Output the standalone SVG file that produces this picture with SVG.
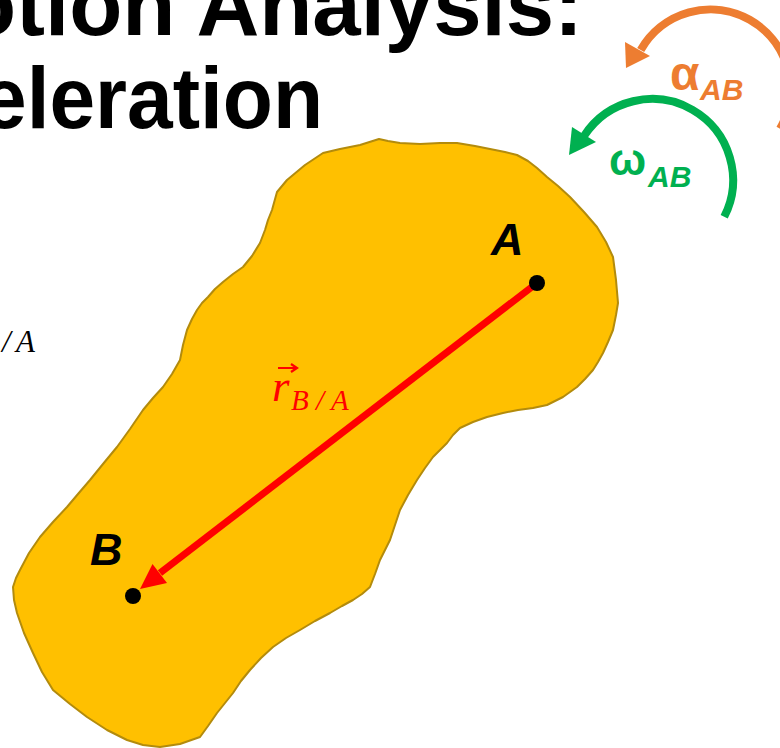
<svg xmlns="http://www.w3.org/2000/svg" width="780" height="748" viewBox="0 0 780 748">
<style>
.title{font-family:"Liberation Sans",Arial,sans-serif;font-weight:bold;font-size:88px;fill:#000}
.pt{font-family:"Liberation Sans",Arial,sans-serif;font-weight:bold;font-style:italic;font-size:45px;fill:#000}
.math{font-family:"Liberation Serif","Times New Roman",serif;font-style:italic}
.greek{font-family:"Liberation Sans",Arial,sans-serif;font-weight:bold}
.sub{font-family:"Liberation Sans",Arial,sans-serif;font-weight:bold;font-style:italic;font-size:30px}
</style>
<g id="title">
<text class="title" x="-37" y="35" textLength="620" lengthAdjust="spacingAndGlyphs">otion Analysis:</text>
<text class="title" x="-19" y="128" textLength="342" lengthAdjust="spacingAndGlyphs">eleration</text>
</g>
<g id="left-fragment">
<text class="math" x="2 16" y="352" font-size="31" fill="#000">/A</text>
</g>
<g id="body">
<polygon fill="#FFC000" stroke="#B38B0C" stroke-width="2" stroke-linejoin="round" points="379,139 388,141 400,143 420,144 440,143 457,143 475,146 490,149 505,152 517,155 528,161 537,168 547,177 558,186 570,197 584,212 597,227 606,242 613,257 616,280 618,303 616,315 613,330 608,342 603,353 598,362 593,370 585,379 577,387 570,392 563,397 555,401 547,405 533,408 518,410 503,413 487,417 473,422 460,428 453,435 447,443 440,450 433,457 425,468 417,480 408,495 400,510 395,525 390,540 385,550 380,560 375,574 370,587 362,594 353,600 342,606 330,613 315,621 300,630 286,638 273,647 261,658 250,670 241,681 233,693 225,703 217,713 208,726 200,737 180,744 160,747 143,745 127,740 107,730 87,717 70,704 53,690 42,672 33,653 24,633 17,613 14,600 13,587 16,578 20,570 29,553 40,537 53,522 67,507 78,494 90,480 103,464 117,447 130,429 143,410 153,398 163,387 172,374 180,360 183,345 187,330 192,319 197,310 202,303 208,297 215,289 223,282 233,274 243,267 252,256 260,243 265,230 268,220 272,210 277,192 287,180 305,165 323,153 340,149 360,145"/>
</g>
<g id="connectors">
<line x1="537" y1="283" x2="160" y2="573" stroke="#FF0000" stroke-width="7"/>
<polygon fill="#FF0000" points="140,589 167,583 152.5,564"/>
<path d="M640.7 50 A80 80 0 0 1 780 128.8" fill="none" stroke="#ED7D31" stroke-width="8"/>
<polygon fill="#ED7D31" points="626,68 625,42 650,56"/>
<path d="M584.1 135.9 A81 81 0 0 1 724.2 216.8" fill="none" stroke="#00B050" stroke-width="8"/>
<polygon fill="#00B050" points="569,155 572,127 596,142"/>
</g>
<g id="point-A">
<circle cx="537" cy="283" r="8" fill="#000"/>
<text class="pt" x="491" y="255">A</text>
</g>
<g id="point-B">
<circle cx="133" cy="596" r="8" fill="#000"/>
<text class="pt" x="90" y="565">B</text>
</g>
<g id="label-r">
<path d="M278 368 H296 M291 364 L297 368 L291 372" fill="none" stroke="#FF0000" stroke-width="2.2"/>
<text class="math" x="272" y="401" font-size="45" fill="#FF0000">r</text>
<text class="math" x="291 316 331" y="410" font-size="29" fill="#FF0000">B/A</text>
</g>
<g id="label-alpha">
<text class="greek" x="670" y="90" font-size="48" fill="#ED7D31">α</text>
<text class="sub" x="700" y="100" fill="#ED7D31">AB</text>
</g>
<g id="label-omega">
<text class="greek" x="609" y="175" font-size="44" fill="#00B050">ω</text>
<text class="sub" x="648" y="187" fill="#00B050">AB</text>
</g>
</svg>
